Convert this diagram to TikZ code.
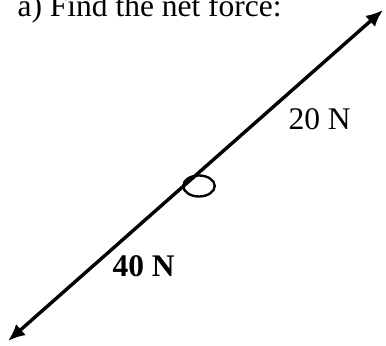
\documentclass[tikz,border=0pt]{standalone}
\usepackage{fontspec}
\setmainfont{Liberation Serif}
\usetikzlibrary{positioning, arrows.meta, shapes.geometric}

\begin{document}
\begin{tikzpicture}[x=0.381pt, y=-0.381pt, font=\fontsize{12}{14}\selectfont,
        force/.style={line width=1.3pt, -{Latex[length=6.5pt, width=5.6pt]}}]
        \useasboundingbox (0,0) rectangle (386,346);

        % Define the nodes
        \node[anchor=base west, inner sep=0] (title) at (17,17) {a) Find the net force:};
        \node[draw, ellipse, line width=0.9pt, inner sep=0, minimum width=12pt, minimum height=8pt] (body) at (199,186) {};

        \coordinate (o) at (195.5,175.5);
        \coordinate (tipA) at (383,10);
        \coordinate (tipB) at (8,341);

        \node[anchor=base west, inner sep=0] (fA) at (288,130) {20 N};
        \node[anchor=base west, inner sep=0] (fB) at (112,277) {\textbf{40 N}};

        % Define the edges
        \draw[force] (o) -- (tipA);
        \draw[force] (o) -- (tipB);
    \end{tikzpicture}
\end{document}
